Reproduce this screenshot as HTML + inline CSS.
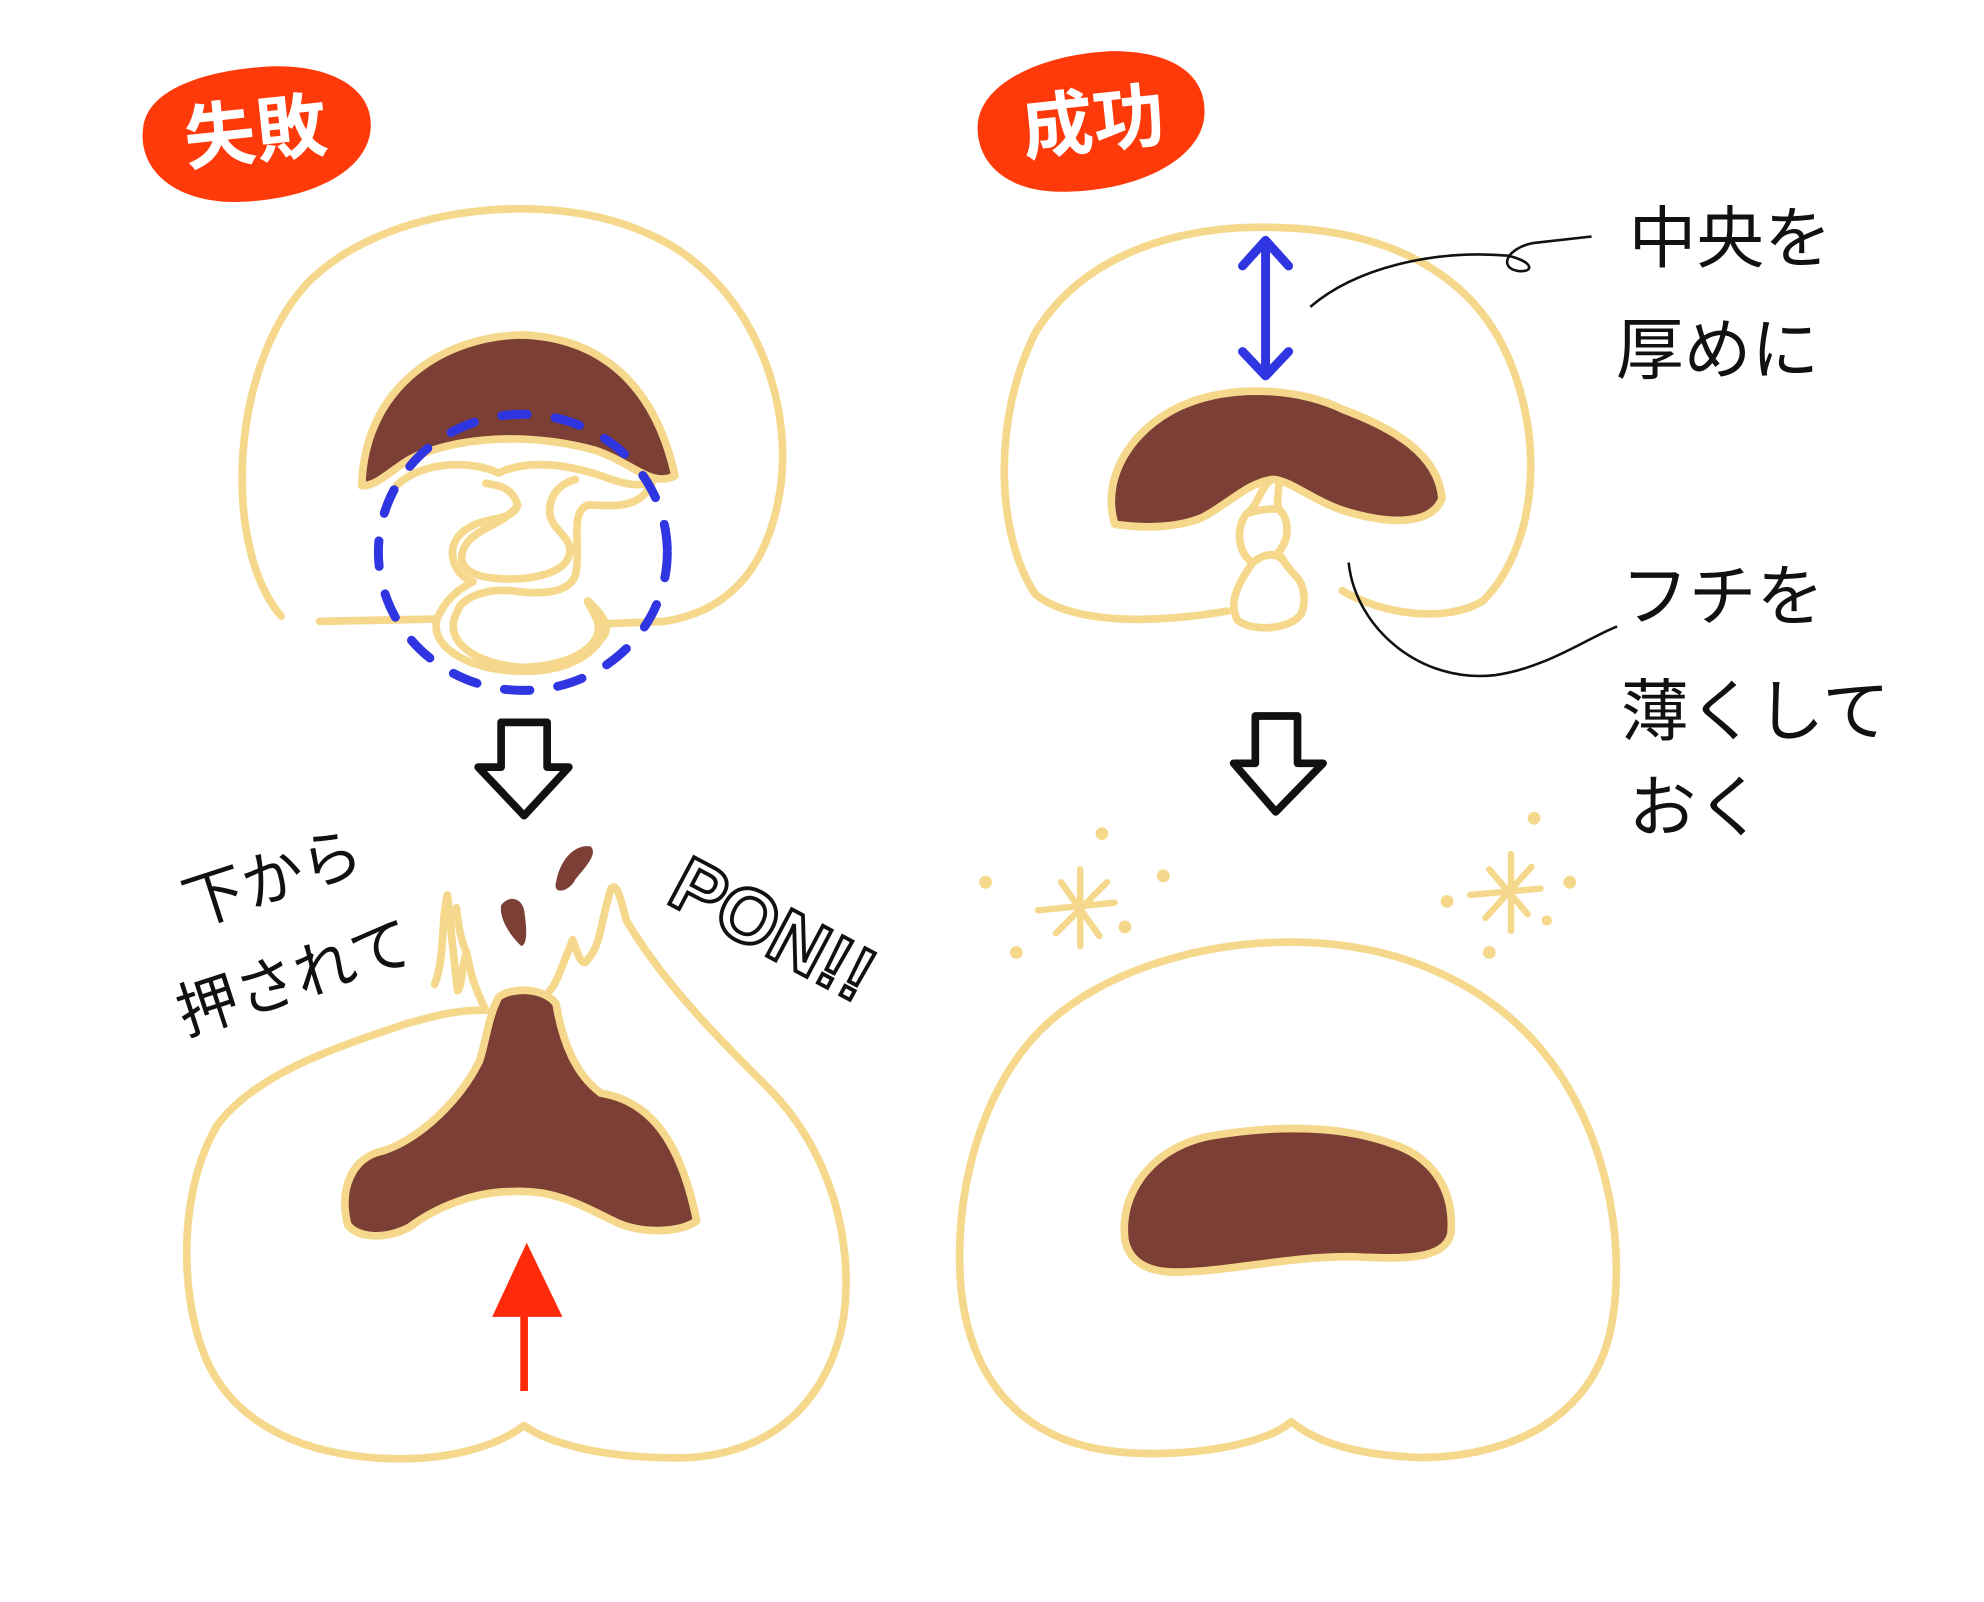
<!DOCTYPE html>
<html><head><meta charset="utf-8"><style>
html,body{margin:0;padding:0;background:#fff;width:1984px;height:1602px;overflow:hidden}
svg{display:block}
text{font-family:"Liberation Sans","Noto Sans CJK JP",sans-serif}
</style></head><body>
<svg width="1984" height="1602" viewBox="0 0 1552 1253" preserveAspectRatio="none">
<g fill="none" stroke="#f5d88c" stroke-width="6" stroke-linejoin="round" stroke-linecap="round">
<path d="M220,482 C175,430 178,290 240,222 C300,160 430,148 505,182 C585,215 622,310 610,385 C600,445 570,478 520,486 L470,488 M250,486 L350,484"/>
<path fill="#fff" d="M310,380 C330,360 370,360 390,370 C410,360 440,362 470,372 C490,380 500,380 510,378 C500,400 475,395 460,395 C445,400 455,430 450,450 C445,465 420,465 400,462 C380,460 360,468 358,478 C345,500 370,520 410,522 C450,520 470,505 468,488 C465,478 458,470 460,470 C470,480 480,490 470,500 C460,515 440,525 410,525 C360,525 330,500 345,478 C350,468 360,460 370,455 C355,450 348,430 360,418 C375,402 400,410 405,395 C400,380 390,380 380,378"/>
<path d="M405,395 C395,410 375,412 365,425 C355,440 365,450 385,452 C410,455 440,450 445,435 C450,420 430,415 430,400 C430,385 440,378 450,375"/>
<path fill="#7c3f35" d="M283,380 C285,300 350,262 410,262 C470,265 512,300 528,372 C510,382 495,362 465,352 C420,340 370,340 330,355 C310,362 298,380 283,380 Z"/>
<path d="M380,790 C350,790 330,798 320,800 C260,820 200,840 170,880 C140,930 140,1010 160,1060 C180,1110 230,1135 290,1140 C350,1145 390,1130 410,1115 C430,1130 480,1142 540,1140 C610,1135 650,1090 660,1030 C668,970 650,900 600,850 C560,810 520,770 490,720 C485,700 482,690 478,695 C470,720 470,740 460,750 C455,760 450,740 448,735 C440,755 435,770 430,775"/>
<path d="M380,790 C370,770 368,760 365,745 C360,760 362,770 358,775 C355,750 352,720 350,700 C345,720 348,750 340,770"/>
<path d="M365,745 C360,735 358,720 357,710"/>
<path fill="#7c3f35" d="M390,780 C400,772 425,772 435,785 C440,815 450,840 470,855 C500,860 530,880 545,955 C530,965 500,965 480,955 C450,940 430,930 400,932 C370,932 340,945 320,960 C300,970 280,968 272,958 C265,930 275,905 300,900 C330,890 360,860 375,830 C380,815 382,795 390,780 Z"/>
<path d="M810,465 C780,420 775,330 810,260 C850,195 930,175 1000,178 C1080,180 1150,210 1180,280 C1210,350 1200,430 1160,470 C1130,488 1080,480 1050,462 M960,478 C900,488 840,488 810,465"/>
<path fill="#fff" d="M1000,370 C985,380 985,395 975,402 C965,415 970,435 980,440 C970,455 960,470 968,485 C980,495 1010,492 1018,480 C1022,470 1020,458 1015,452 C1008,445 1005,440 1000,432 C1010,420 1008,405 1000,398 C998,390 1002,380 1000,370 Z"/>
<path d="M980,440 C990,432 1000,432 1005,440 M975,402 C985,398 995,398 1000,398"/>
<path fill="#7c3f35" d="M872,410 C860,370 890,330 930,315 C970,300 1020,305 1050,320 C1090,335 1125,355 1128,390 C1120,410 1090,410 1060,402 C1030,395 1010,375 995,375 C975,378 960,395 940,405 C915,415 885,412 872,410 Z"/>
<path d="M1010,1112 C990,1130 930,1140 880,1136 C800,1130 760,1080 752,1010 C745,940 765,850 820,800 C870,755 950,735 1020,737 C1110,740 1180,780 1220,840 C1260,900 1272,980 1260,1040 C1245,1110 1180,1140 1110,1140 C1060,1138 1030,1128 1010,1112 Z"/>
<path fill="#7c3f35" d="M880,970 C875,930 905,895 950,888 C1000,880 1050,880 1090,895 C1120,905 1138,930 1135,965 C1130,985 1100,985 1060,983 C1010,982 960,995 920,995 C895,995 883,985 880,970 Z"/>
<g stroke-width="5">
<path d="M830,690 L860,732 M812,712 L872,706 M826,730 L866,690 M845,680 L845,740"/>
<path d="M1165,680 L1195,715 M1150,700 L1205,695 M1162,718 L1198,678 M1182,668 L1182,728"/>
</g>
</g>
<g fill="#f5d88c">
<circle cx="771" cy="690" r="5"/><circle cx="795" cy="745" r="5"/><circle cx="880" cy="725" r="5"/><circle cx="910" cy="685" r="5"/><circle cx="862" cy="652" r="5"/>
<circle cx="1132" cy="705" r="5"/><circle cx="1165" cy="745" r="5"/><circle cx="1228" cy="690" r="5"/><circle cx="1200" cy="640" r="5"/><circle cx="1210" cy="720" r="4"/>
</g>
<path fill="#7c3f35" d="M435,690 C438,672 450,660 462,662 C468,668 458,678 450,688 C445,698 432,700 435,690 Z"/>
<path fill="#7c3f35" d="M392,708 C398,700 408,702 410,712 C412,725 413,738 408,740 C402,735 390,720 392,708 Z"/>
<ellipse cx="409" cy="432" rx="113" ry="108" fill="none" stroke="#2f35e0" stroke-width="7" stroke-dasharray="20 22" stroke-linecap="round"/>
<g stroke="#2f35e0" stroke-width="7" fill="none" stroke-linecap="round" stroke-linejoin="round">
<path d="M990,190 L990,292 M972,208 L990,188 L1008,208 M972,275 L990,294 L1008,275"/>
</g>
<path d="M392,565 L428,565 L428,600 L445,600 L410,638 L374,600 L392,600 Z" fill="#fff" stroke="#111" stroke-width="6" stroke-linejoin="round"/>
<path d="M982,560 L1015,560 L1015,597 L1035,597 L998,635 L965,597 L982,597 Z" fill="#fff" stroke="#111" stroke-width="6" stroke-linejoin="round"/>
<path d="M410,1088 L410,1015" stroke="#ff2a0a" stroke-width="6"/>
<path d="M385,1030 L412,972 L440,1030 Z" fill="#ff2a0a"/>
<g stroke="#111" stroke-width="2" fill="none">
<path d="M1025,240 C1060,210 1120,195 1180,200 C1200,205 1200,213 1188,212 C1172,210 1178,194 1200,190 L1245,185"/>
<path d="M1055,440 C1060,490 1110,535 1170,528 C1210,522 1240,500 1265,490"/>
</g>
<path d="M112,100 C115,70 160,55 210,52 C260,50 292,70 290,100 C288,135 240,158 180,158 C130,156 108,128 112,100 Z" fill="#ff3a0a"/>
<path d="M765,95 C770,62 820,42 870,40 C920,40 945,60 942,92 C938,125 890,150 830,150 C785,150 762,125 765,95 Z" fill="#ff3a0a"/>
<text x="200" y="123" font-size="56" font-weight="bold" fill="#fff" text-anchor="middle" transform="rotate(-6 200 105)">失敗</text>
<text x="855" y="115" font-size="56" font-weight="bold" fill="#fff" text-anchor="middle" transform="rotate(-6 855 95)">成功</text>
<g fill="#111" font-size="53">
<text x="1274" y="205">中央を</text>
<text x="1264" y="292">厚めに</text>
<text x="1268" y="485">フチを</text>
<text x="1268" y="575">薄くして</text>
<text x="1274" y="650">おく</text>
</g>
<g fill="#111" font-size="48">
<text x="150" y="725" transform="rotate(-18 150 725)">下から</text>
<text x="145" y="810" transform="rotate(-18 145 810)">押されて</text>
</g>
<text x="520" y="705" font-size="60" font-weight="bold" fill="#fff" stroke="#111" stroke-width="3" transform="rotate(28 520 705)">PON!!</text>
</svg>
</body></html>
